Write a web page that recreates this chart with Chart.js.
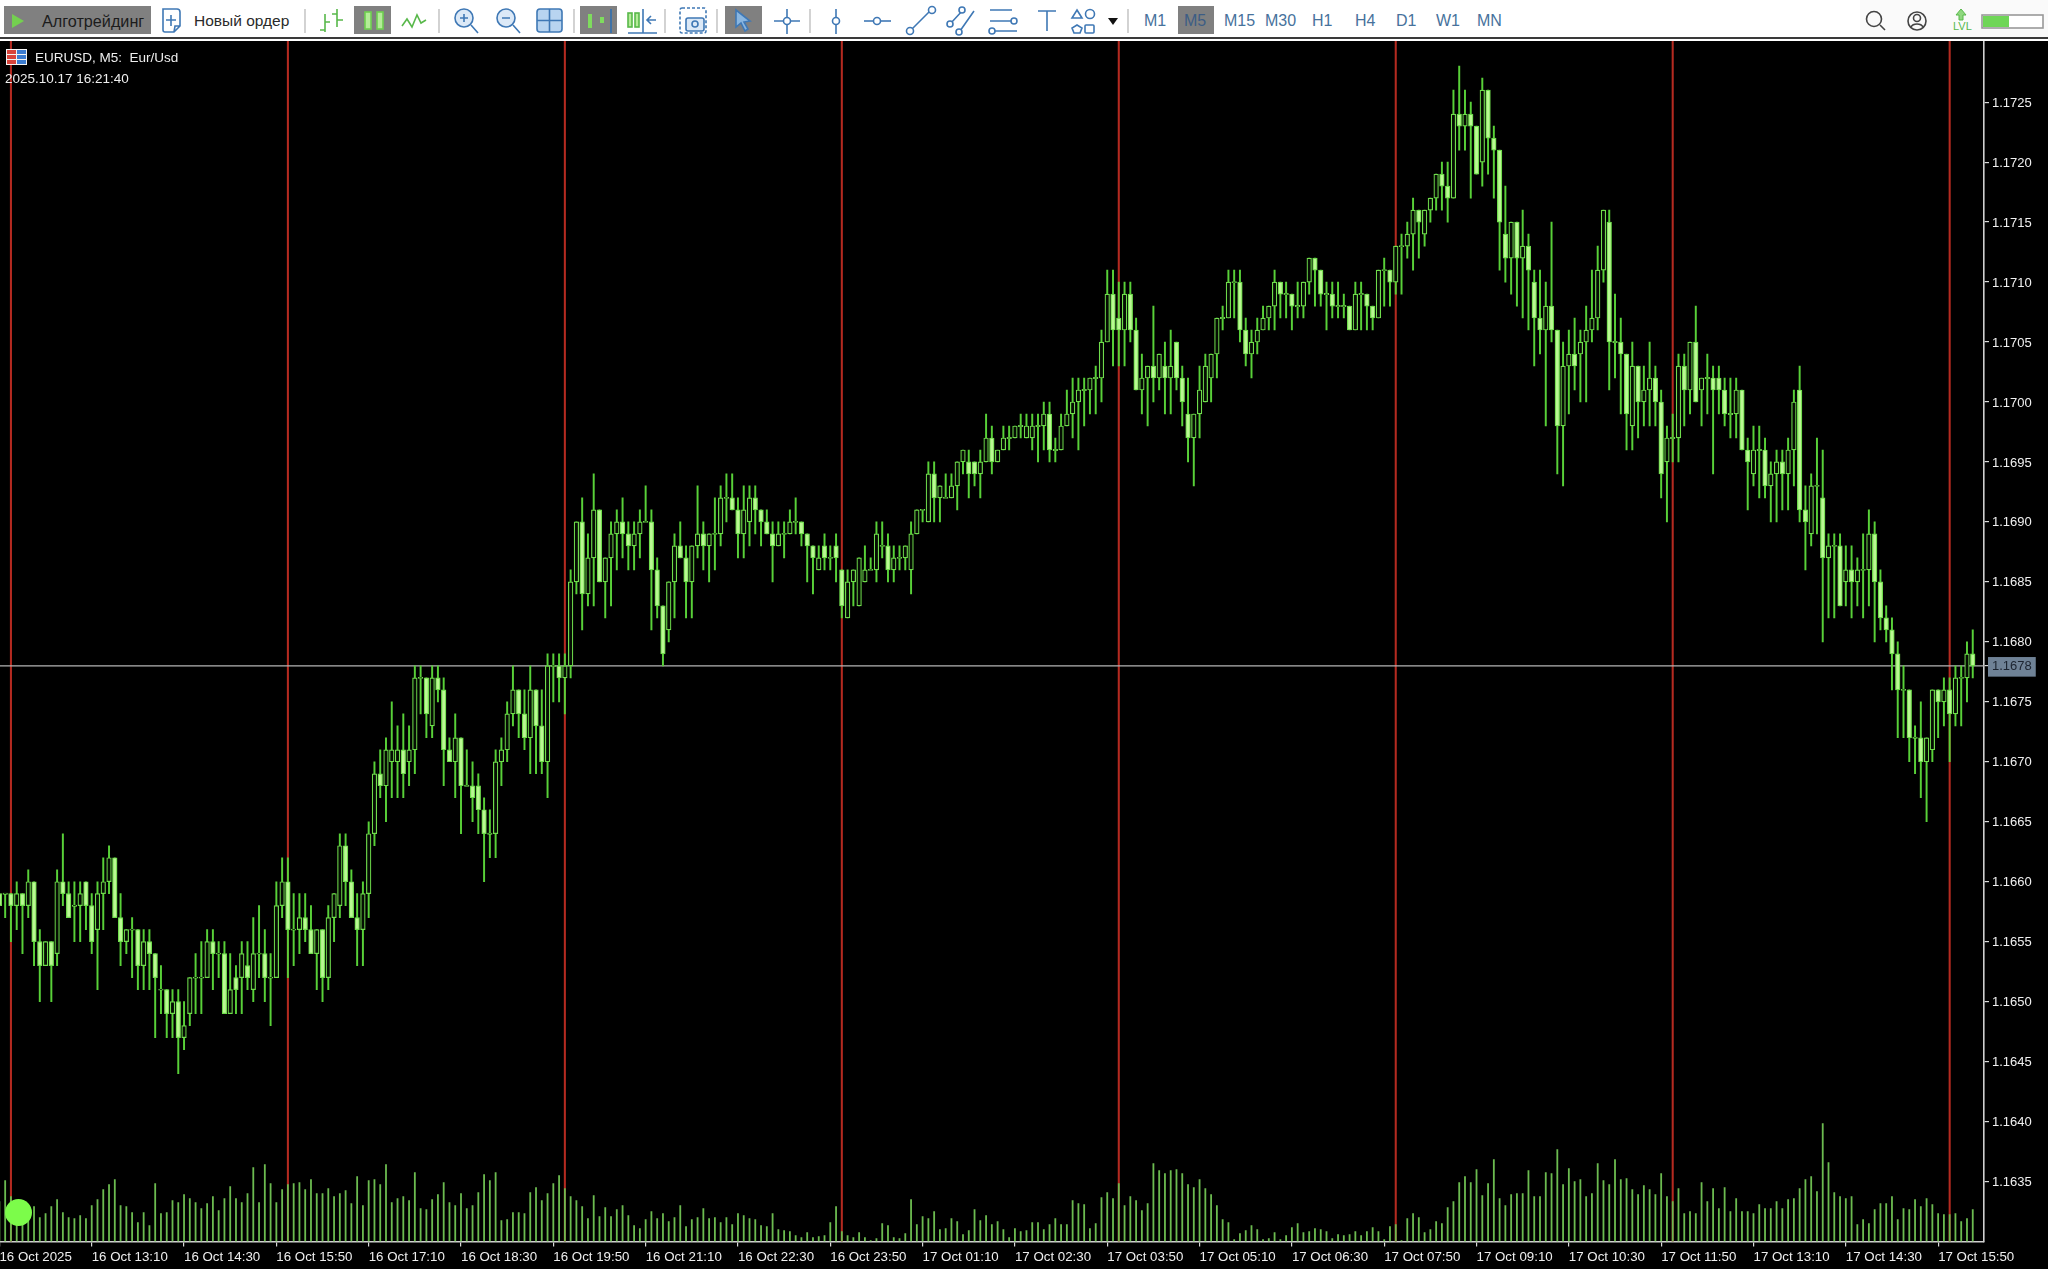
<!DOCTYPE html>
<html><head><meta charset="utf-8"><title>EURUSD M5</title>
<script src="https://cdn.jsdelivr.net/npm/chart.js@4"></script>
<style>
html,body{margin:0;padding:0;background:#fff;width:2048px;height:1269px;overflow:hidden}
#bar{position:absolute;left:0;top:0;width:2048px;height:37px;background:#fff}
#sideBg{position:absolute;left:1860px;top:0;width:188px;height:37px;background:#fafafa}
#rule{position:absolute;left:0;top:37px;width:2048px;height:2px;background:#3a3a3a}
#box{position:absolute;left:0;top:41px;width:2048px;height:1228px;background:#000}
#c{display:block}
.t{position:absolute;font-family:"Liberation Sans",sans-serif;white-space:nowrap;line-height:1}
.tb{top:13px;font-size:15.5px;color:#2a2a2a}
.tf{top:13px;font-size:16px;color:#47729c}
.ov{color:#eee;font-size:13.5px}
#dot{position:absolute;left:5px;top:1199px;width:27px;height:27px;border-radius:50%;background:#7cfc4a}
svg{position:absolute;left:0;top:0}
</style></head><body>
<div id="bar"></div><div id="sideBg"></div><div id="rule"></div>
<svg width="2048" height="37" fill="none" stroke="#3f78b5" stroke-width="1.6">
<g fill="#808080" stroke="none"><rect x="4" y="6" width="147" height="28"/><rect x="354" y="6" width="37" height="28"/><rect x="580" y="6" width="37" height="28"/><rect x="725" y="6" width="37" height="28"/><rect x="1178" y="6" width="36" height="28"/></g>
<polygon points="12,14 24,21 12,28" fill="#74d050" stroke="none"/>
<path d="M163 9h14a3 3 0 0 1 3 3v14l-6 6h-9a2 2 0 0 1-2-2zM174 32l1-6h5M171 15v11M166 20h10"/>
<g stroke="#c8c8c8"><path d="M305 9v24M439 9v24M574 9v24M665 9v24M717 9v24M810 9v24M1128 9v24"/></g>
<g stroke="#58b84a"><path d="M325 14v18M320 30h5M325 22h5M337 9v18M332 14h5M337 20h6"/></g>
<g fill="#b4ec98" stroke="#6fd050"><rect x="365" y="12" width="6" height="17"/><rect x="377" y="12" width="6" height="17"/></g>
<path d="M402 26l5-7 5 8 5-12 4 8 5-3" stroke="#58b84a"/>
<g fill="#dce9f7"><circle cx="464" cy="18" r="9"/><circle cx="506" cy="18" r="9"/></g>
<path d="M471 25l7 8M513 25l7 8M460 18h8M464 14v8M502 18h8"/>
<rect x="537" y="9" width="25" height="23" rx="3" fill="#b8d4f0"/><path d="M549.5 9v23M537 20.500h25"/>
<g fill="#7fdc5e" stroke="none"><rect x="588" y="14" width="4" height="14"/><rect x="600" y="17" width="4" height="6"/></g><path d="M611 9v24" stroke="#2f6fb0"/>
<g stroke="#58b84a" fill="#b4ec98"><rect x="628" y="13" width="4" height="14"/><rect x="635" y="13" width="4" height="14"/></g><path d="M643 9v24M656 20h-8M651 16l-4 4 4 4M628 33h29"/>
<rect x="680" y="8" width="26" height="25" rx="2" stroke-dasharray="3 2"/><rect x="686" y="18" width="18" height="13" rx="2" fill="#dce9f7"/><circle cx="695" cy="24" r="3"/>
<polygon points="736,10 736,27 741,23 745,31 748,29 744,22 750,21" fill="#8ab6e0"/>
<path d="M787 9v25M774 21h26"/><circle cx="787" cy="21" r="3.500" fill="#fff"/>
<path d="M836 9v25"/><circle cx="836" cy="21" r="3.500" fill="#fff"/><path d="M864 21h27"/><circle cx="877" cy="21" r="3.500" fill="#fff"/>
<path d="M911 30l20-20"/><circle cx="910" cy="31" r="3.500" fill="#fff"/><circle cx="932" cy="10" r="3.500" fill="#fff"/>
<path d="M951 23l12-13M960 31l14-20"/><circle cx="950" cy="24" r="3" fill="#fff"/><circle cx="962" cy="10" r="3" fill="#fff"/><circle cx="959" cy="32" r="3" fill="#fff"/>
<path d="M990 10h22M990 21h22M994 31h23"/><circle cx="1014" cy="21" r="3" fill="#fff"/><circle cx="992" cy="31" r="3" fill="#fff"/>
<path d="M1038 11h18M1047 11v20"/>
<path d="M1077 10l5 8h-10z"/><circle cx="1090" cy="14" r="4.500"/><path d="M1077 25l5 3-2 5h-6l-2-5z"/><rect x="1085" y="25" width="9" height="8" rx="1"/>
<polygon points="1108,18 1118,18 1113,25" fill="#111" stroke="none"/>
<g stroke="#444"><circle cx="1874" cy="19" r="7.500"/><path d="M1880 25l5 5"/><circle cx="1917" cy="21" r="9"/><circle cx="1917" cy="18" r="3.500"/><path d="M1911 27c2-4 10-4 12 0"/></g>
<path d="M1961 9l-5 6h3v5h4v-5h3z" fill="#8fd87f" stroke="#58b84a" stroke-width="1"/>
<rect x="1982" y="15" width="61" height="13" fill="#fff" stroke="#999"/><rect x="1983" y="16" width="26" height="11" fill="#6fd657" stroke="none"/>
</svg>
<span class="t tb" style="left:42px;font-size:16.2px;color:#1c1c1c">Алготрейдинг</span>
<span class="t tb" style="left:194px">Новый ордер</span>
<span class="t tf" style="left:1144px">M1</span><span class="t tf" style="left:1184px;color:#3c5d85">M5</span><span class="t tf" style="left:1224px">M15</span><span class="t tf" style="left:1265px">M30</span><span class="t tf" style="left:1312px">H1</span><span class="t tf" style="left:1355px">H4</span><span class="t tf" style="left:1396px">D1</span><span class="t tf" style="left:1436px">W1</span><span class="t tf" style="left:1477px">MN</span>
<span class="t" style="left:1953px;top:21px;font-size:11px;color:#58b84a">LVL</span>
<div id="box"><canvas id="c" width="2048" height="1228"></canvas></div>
<svg width="30" height="20" style="left:5px;top:48px" stroke="#f4f4f4" stroke-width="1"><rect x="1.500" y="1.500" width="10" height="15" fill="#d8443c"/><rect x="11.500" y="1.500" width="10" height="15" fill="#3c7cd0"/><path d="M1.500 6.500h20M1.500 11.500h20M11.500 1.500v15"/></svg>
<span class="t ov" style="left:35px;top:51px">EURUSD, M5:&nbsp; Eur/Usd</span>
<span class="t ov" style="left:5px;top:72px">2025.10.17 16:21:40</span>
<div id="dot"></div>
<script>
const opens=[
1.1659,1.1659,1.1659,1.1658,1.1659,1.1658,1.1660,1.1655,1.1653,1.1655,
1.1654,1.1660,1.1659,1.1658,1.1658,1.1660,1.1658,1.1656,1.1659,1.1660,
1.1662,1.1657,1.1655,1.1656,1.1656,1.1653,1.1655,1.1654,1.1651,1.1651,
1.1649,1.1650,1.1647,1.1649,1.1652,1.1652,1.1652,1.1655,1.1654,1.1654,
1.1649,1.1652,1.1652,1.1653,1.1651,1.1654,1.1654,1.1652,1.1652,1.1658,
1.1660,1.1656,1.1656,1.1657,1.1656,1.1654,1.1656,1.1652,1.1657,1.1658,
1.1663,1.1660,1.1657,1.1656,1.1659,1.1664,1.1669,1.1668,1.1670,1.1670,
1.1671,1.1670,1.1671,1.1677,1.1677,1.1673,1.1677,1.1676,1.1671,1.1670,
1.1672,1.1668,1.1668,1.1668,1.1666,1.1664,1.1664,1.1670,1.1671,1.1674,
1.1676,1.1674,1.1672,1.1676,1.1673,1.1670,1.1678,1.1678,1.1677,1.1678,
1.1685,1.1690,1.1684,1.1687,1.1691,1.1685,1.1687,1.1689,1.1690,1.1689,
1.1688,1.1689,1.1690,1.1690,1.1686,1.1683,1.1681,1.1685,1.1688,1.1687,
1.1685,1.1688,1.1689,1.1688,1.1689,1.1689,1.1692,1.1692,1.1691,1.1689,
1.1690,1.1692,1.1691,1.1690,1.1689,1.1688,1.1689,1.1689,1.1690,1.1690,
1.1689,1.1688,1.1686,1.1688,1.1687,1.1688,1.1686,1.1682,1.1685,1.1683,
1.1685,1.1686,1.1686,1.1688,1.1688,1.1686,1.1687,1.1687,1.1686,1.1689,
1.1691,1.1690,1.1694,1.1692,1.1692,1.1692,1.1693,1.1695,1.1695,1.1695,
1.1694,1.1695,1.1697,1.1695,1.1696,1.1697,1.1697,1.1698,1.1697,1.1697,
1.1698,1.1698,1.1699,1.1696,1.1696,1.1698,1.1699,1.1700,1.1701,1.1701,
1.1702,1.1702,1.1705,1.1709,1.1707,1.1706,1.1709,1.1706,1.1701,1.1702,
1.1703,1.1702,1.1703,1.1702,1.1705,1.1702,1.1699,1.1697,1.1699,1.1700,
1.1702,1.1704,1.1707,1.1707,1.1710,1.1710,1.1706,1.1704,1.1705,1.1706,
1.1707,1.1708,1.1710,1.1709,1.1709,1.1708,1.1708,1.1710,1.1712,1.1711,
1.1709,1.1709,1.1708,1.1708,1.1708,1.1706,1.1709,1.1709,1.1708,1.1707,
1.1711,1.1711,1.1710,1.1713,1.1713,1.1714,1.1716,1.1714,1.1716,1.1717,
1.1719,1.1718,1.1717,1.1724,1.1723,1.1724,1.1723,1.1720,1.1726,1.1722,
1.1721,1.1714,1.1712,1.1715,1.1712,1.1713,1.1710,1.1707,1.1706,1.1708,
1.1706,1.1698,1.1703,1.1704,1.1704,1.1705,1.1706,1.1707,1.1711,1.1715,
1.1705,1.1705,1.1704,1.1698,1.1703,1.1700,1.1701,1.1702,1.1700,1.1695,
1.1697,1.1697,1.1703,1.1701,1.1705,1.1701,1.1702,1.1702,1.1702,1.1701,
1.1699,1.1699,1.1701,1.1696,1.1694,1.1696,1.1696,1.1693,1.1694,1.1695,
1.1694,1.1696,1.1701,1.1691,1.1689,1.1693,1.1692,1.1687,1.1688,1.1688,
1.1685,1.1686,1.1685,1.1686,1.1686,1.1689,1.1685,1.1682,1.1681,1.1679,
1.1676,1.1676,1.1672,1.1672,1.1670,1.1671,1.1676,1.1675,1.1676,1.1674,
1.1677,1.1677,1.1679];
const highs=[
1.1659,1.1659,1.1659,1.1660,1.1659,1.1661,1.1660,1.1656,1.1655,1.1655,
1.1661,1.1664,1.1660,1.1660,1.1660,1.1660,1.1659,1.1660,1.1662,1.1663,
1.1662,1.1659,1.1656,1.1657,1.1656,1.1656,1.1656,1.1654,1.1653,1.1651,
1.1651,1.1651,1.1650,1.1652,1.1654,1.1655,1.1656,1.1656,1.1655,1.1655,
1.1654,1.1653,1.1655,1.1655,1.1657,1.1658,1.1656,1.1654,1.1660,1.1662,
1.1662,1.1659,1.1659,1.1659,1.1658,1.1656,1.1656,1.1658,1.1659,1.1664,
1.1664,1.1661,1.1659,1.1660,1.1665,1.1670,1.1671,1.1672,1.1675,1.1673,
1.1674,1.1673,1.1678,1.1678,1.1677,1.1678,1.1678,1.1677,1.1672,1.1674,
1.1672,1.1671,1.1670,1.1669,1.1667,1.1666,1.1671,1.1672,1.1675,1.1678,
1.1676,1.1676,1.1678,1.1676,1.1676,1.1679,1.1679,1.1679,1.1679,1.1686,
1.1690,1.1692,1.1689,1.1694,1.1691,1.1687,1.1690,1.1691,1.1692,1.1690,
1.1690,1.1691,1.1693,1.1691,1.1687,1.1683,1.1685,1.1689,1.1690,1.1688,
1.1688,1.1693,1.1690,1.1689,1.1692,1.1693,1.1694,1.1694,1.1692,1.1693,
1.1693,1.1693,1.1691,1.1691,1.1690,1.1690,1.1690,1.1691,1.1692,1.1690,
1.1689,1.1688,1.1688,1.1689,1.1688,1.1689,1.1686,1.1686,1.1686,1.1687,
1.1688,1.1687,1.1690,1.1690,1.1689,1.1688,1.1688,1.1688,1.1690,1.1691,
1.1691,1.1695,1.1695,1.1693,1.1694,1.1694,1.1695,1.1696,1.1696,1.1695,
1.1696,1.1699,1.1698,1.1696,1.1698,1.1698,1.1698,1.1699,1.1699,1.1699,
1.1699,1.1700,1.1700,1.1697,1.1699,1.1701,1.1702,1.1702,1.1702,1.1702,
1.1703,1.1706,1.1711,1.1711,1.1710,1.1710,1.1710,1.1707,1.1704,1.1703,
1.1708,1.1704,1.1705,1.1706,1.1705,1.1703,1.1702,1.1699,1.1703,1.1704,
1.1704,1.1707,1.1708,1.1711,1.1711,1.1711,1.1707,1.1706,1.1707,1.1708,
1.1708,1.1711,1.1710,1.1710,1.1709,1.1710,1.1710,1.1712,1.1712,1.1711,
1.1710,1.1710,1.1710,1.1709,1.1708,1.1710,1.1710,1.1709,1.1708,1.1711,
1.1712,1.1711,1.1713,1.1714,1.1715,1.1717,1.1716,1.1716,1.1717,1.1719,
1.1720,1.1720,1.1726,1.1728,1.1726,1.1725,1.1723,1.1727,1.1726,1.1723,
1.1721,1.1718,1.1715,1.1715,1.1716,1.1714,1.1711,1.1711,1.1710,1.1715,
1.1706,1.1705,1.1706,1.1707,1.1706,1.1708,1.1711,1.1713,1.1716,1.1716,
1.1709,1.1707,1.1704,1.1705,1.1703,1.1703,1.1705,1.1703,1.1701,1.1698,
1.1699,1.1704,1.1704,1.1705,1.1708,1.1702,1.1704,1.1703,1.1703,1.1702,
1.1702,1.1702,1.1701,1.1697,1.1698,1.1698,1.1697,1.1695,1.1696,1.1696,
1.1697,1.1701,1.1703,1.1693,1.1694,1.1697,1.1696,1.1689,1.1689,1.1689,
1.1688,1.1688,1.1687,1.1689,1.1691,1.1690,1.1686,1.1683,1.1682,1.1680,
1.1678,1.1676,1.1673,1.1675,1.1672,1.1676,1.1676,1.1677,1.1677,1.1678,
1.1678,1.1680,1.1681];
const lows=[
1.1658,1.1657,1.1655,1.1656,1.1654,1.1657,1.1653,1.1650,1.1653,1.1650,
1.1653,1.1658,1.1657,1.1655,1.1655,1.1656,1.1654,1.1651,1.1656,1.1659,
1.1657,1.1653,1.1654,1.1652,1.1651,1.1651,1.1651,1.1647,1.1649,1.1647,
1.1647,1.1644,1.1646,1.1648,1.1649,1.1649,1.1652,1.1651,1.1652,1.1649,
1.1649,1.1649,1.1649,1.1651,1.1650,1.1652,1.1650,1.1648,1.1652,1.1657,
1.1652,1.1653,1.1654,1.1655,1.1654,1.1651,1.1650,1.1651,1.1655,1.1657,
1.1658,1.1657,1.1653,1.1653,1.1657,1.1663,1.1667,1.1665,1.1667,1.1667,
1.1667,1.1668,1.1669,1.1674,1.1672,1.1672,1.1675,1.1668,1.1670,1.1667,
1.1664,1.1668,1.1665,1.1664,1.1660,1.1662,1.1662,1.1668,1.1670,1.1673,
1.1672,1.1671,1.1669,1.1669,1.1669,1.1667,1.1675,1.1675,1.1674,1.1677,
1.1684,1.1681,1.1683,1.1683,1.1685,1.1682,1.1683,1.1686,1.1687,1.1686,
1.1686,1.1687,1.1690,1.1681,1.1682,1.1678,1.1680,1.1682,1.1687,1.1682,
1.1682,1.1687,1.1686,1.1685,1.1686,1.1688,1.1690,1.1691,1.1687,1.1687,
1.1688,1.1689,1.1688,1.1689,1.1685,1.1688,1.1687,1.1689,1.1689,1.1688,
1.1685,1.1684,1.1686,1.1686,1.1686,1.1685,1.1682,1.1682,1.1683,1.1683,
1.1685,1.1686,1.1685,1.1687,1.1685,1.1685,1.1686,1.1686,1.1684,1.1689,
1.1690,1.1690,1.1690,1.1690,1.1692,1.1692,1.1691,1.1694,1.1692,1.1693,
1.1692,1.1695,1.1694,1.1695,1.1696,1.1696,1.1697,1.1697,1.1697,1.1696,
1.1695,1.1696,1.1695,1.1695,1.1696,1.1698,1.1697,1.1696,1.1698,1.1699,
1.1699,1.1700,1.1705,1.1703,1.1703,1.1703,1.1705,1.1701,1.1699,1.1698,
1.1700,1.1701,1.1699,1.1699,1.1701,1.1698,1.1695,1.1693,1.1697,1.1700,
1.1700,1.1702,1.1706,1.1707,1.1707,1.1705,1.1703,1.1702,1.1704,1.1706,
1.1706,1.1706,1.1707,1.1707,1.1706,1.1707,1.1707,1.1709,1.1708,1.1708,
1.1706,1.1707,1.1707,1.1707,1.1706,1.1706,1.1706,1.1706,1.1706,1.1707,
1.1708,1.1708,1.1709,1.1709,1.1712,1.1711,1.1712,1.1713,1.1715,1.1716,
1.1716,1.1715,1.1717,1.1721,1.1721,1.1717,1.1719,1.1718,1.1719,1.1717,
1.1711,1.1710,1.1709,1.1708,1.1707,1.1706,1.1703,1.1704,1.1698,1.1705,
1.1694,1.1693,1.1699,1.1701,1.1700,1.1700,1.1705,1.1706,1.1710,1.1701,
1.1702,1.1699,1.1696,1.1696,1.1697,1.1698,1.1698,1.1698,1.1692,1.1690,
1.1695,1.1695,1.1698,1.1699,1.1700,1.1698,1.1699,1.1694,1.1699,1.1698,
1.1697,1.1697,1.1696,1.1691,1.1693,1.1692,1.1692,1.1690,1.1690,1.1691,
1.1691,1.1693,1.1690,1.1686,1.1688,1.1689,1.1680,1.1682,1.1682,1.1683,
1.1683,1.1682,1.1683,1.1682,1.1683,1.1680,1.1681,1.1680,1.1676,1.1672,
1.1672,1.1670,1.1669,1.1667,1.1665,1.1670,1.1672,1.1673,1.1670,1.1673,
1.1673,1.1675,1.1677];
const closes=[
1.1658,1.1659,1.1658,1.1659,1.1658,1.1660,1.1655,1.1653,1.1655,1.1653,
1.1660,1.1659,1.1657,1.1658,1.1659,1.1658,1.1655,1.1659,1.1660,1.1662,
1.1657,1.1655,1.1656,1.1656,1.1653,1.1655,1.1654,1.1652,1.1651,1.1649,
1.1650,1.1647,1.1648,1.1652,1.1652,1.1652,1.1655,1.1654,1.1654,1.1649,
1.1651,1.1651,1.1654,1.1652,1.1654,1.1654,1.1652,1.1652,1.1658,1.1660,
1.1656,1.1656,1.1657,1.1656,1.1654,1.1656,1.1652,1.1657,1.1659,1.1663,
1.1660,1.1657,1.1656,1.1659,1.1664,1.1669,1.1668,1.1671,1.1671,1.1671,
1.1669,1.1671,1.1677,1.1677,1.1674,1.1677,1.1676,1.1671,1.1670,1.1672,
1.1668,1.1668,1.1667,1.1666,1.1664,1.1664,1.1670,1.1671,1.1674,1.1676,
1.1674,1.1672,1.1676,1.1673,1.1670,1.1678,1.1678,1.1677,1.1678,1.1685,
1.1690,1.1684,1.1687,1.1691,1.1685,1.1687,1.1689,1.1690,1.1689,1.1688,
1.1689,1.1690,1.1690,1.1686,1.1683,1.1679,1.1685,1.1688,1.1687,1.1685,
1.1688,1.1689,1.1688,1.1689,1.1689,1.1692,1.1692,1.1691,1.1689,1.1691,
1.1692,1.1691,1.1690,1.1689,1.1688,1.1689,1.1689,1.1690,1.1690,1.1689,
1.1688,1.1687,1.1687,1.1687,1.1687,1.1687,1.1683,1.1685,1.1686,1.1687,
1.1686,1.1686,1.1689,1.1688,1.1686,1.1687,1.1687,1.1688,1.1689,1.1691,
1.1691,1.1694,1.1692,1.1693,1.1692,1.1693,1.1695,1.1696,1.1694,1.1694,
1.1695,1.1697,1.1695,1.1696,1.1697,1.1697,1.1698,1.1698,1.1698,1.1698,
1.1698,1.1699,1.1696,1.1696,1.1698,1.1699,1.1700,1.1701,1.1701,1.1702,
1.1702,1.1705,1.1709,1.1706,1.1706,1.1709,1.1706,1.1701,1.1702,1.1703,
1.1702,1.1704,1.1702,1.1703,1.1702,1.1700,1.1697,1.1699,1.1701,1.1703,
1.1704,1.1707,1.1707,1.1710,1.1710,1.1706,1.1704,1.1705,1.1706,1.1707,
1.1708,1.1710,1.1709,1.1709,1.1708,1.1708,1.1710,1.1712,1.1711,1.1709,
1.1709,1.1708,1.1708,1.1708,1.1706,1.1709,1.1709,1.1708,1.1707,1.1711,
1.1711,1.1710,1.1713,1.1713,1.1714,1.1716,1.1715,1.1716,1.1717,1.1719,
1.1718,1.1717,1.1724,1.1723,1.1724,1.1723,1.1719,1.1726,1.1722,1.1721,
1.1715,1.1712,1.1715,1.1712,1.1713,1.1711,1.1707,1.1706,1.1708,1.1706,
1.1698,1.1703,1.1704,1.1703,1.1705,1.1706,1.1707,1.1711,1.1716,1.1705,
1.1705,1.1704,1.1699,1.1703,1.1700,1.1701,1.1702,1.1700,1.1694,1.1697,
1.1697,1.1703,1.1701,1.1705,1.1700,1.1702,1.1702,1.1701,1.1701,1.1699,
1.1699,1.1701,1.1696,1.1695,1.1696,1.1696,1.1693,1.1694,1.1695,1.1694,
1.1696,1.1700,1.1691,1.1690,1.1693,1.1693,1.1687,1.1688,1.1688,1.1683,
1.1686,1.1685,1.1686,1.1686,1.1689,1.1685,1.1682,1.1681,1.1679,1.1676,
1.1676,1.1672,1.1672,1.1670,1.1672,1.1676,1.1675,1.1676,1.1674,1.1677,
1.1677,1.1679,1.1678];
const volumes=[
40,61,45,35,35,35,35,24,28,35,
42,29,24,23,26,23,36,42,52,57,
62,36,35,29,19,29,16,58,28,29,
41,39,47,43,39,33,38,45,31,43,
55,43,39,48,74,39,77,58,39,52,
57,58,59,52,62,48,48,53,45,48,
51,38,65,36,61,62,57,77,39,43,
45,41,69,33,32,42,47,59,39,36,
48,33,36,49,67,61,69,21,22,29,
29,28,49,54,41,48,58,66,53,45,
41,35,23,46,25,34,25,32,36,26,
16,13,22,30,23,28,20,24,36,15,
22,24,33,23,24,19,24,17,28,26,
23,22,16,15,28,12,11,10,6,4,
9,4,5,6,19,35,10,6,4,9,
4,1,3,18,16,4,3,8,42,17,
25,23,30,12,13,23,20,7,11,32,
21,26,17,20,12,4,13,10,11,19,
19,12,17,23,17,17,41,38,37,13,
18,44,49,43,58,36,45,41,31,38,
78,71,68,71,72,68,57,54,62,53,
47,36,22,19,2,8,11,16,12,2,
3,9,2,6,14,18,9,10,13,12,
10,3,7,6,7,10,6,10,14,10,
2,15,17,1,23,28,24,9,12,20,
18,34,40,59,65,59,72,46,58,82,
43,36,47,48,48,71,45,45,69,68,
92,57,73,60,62,45,48,78,61,57,
82,62,63,52,47,56,52,47,68,45,
40,53,28,30,28,59,40,53,33,54,
30,43,30,30,28,37,33,33,40,33,
42,43,53,62,65,50,118,79,49,45,
43,45,17,22,18,32,38,38,45,22,
33,32,42,35,43,37,28,27,27,28,
20,23,32];
const separatorBars=[2,50,98,146,194,242,290,338];
const xTickBars=[0,16,32,48,64,80,96,112,128,144,160,176,192,208,224,240,256,272,288,304,320,336];
const xTickLabels=["16 Oct 2025","16 Oct 13:10","16 Oct 14:30","16 Oct 15:50","16 Oct 17:10","16 Oct 18:30","16 Oct 19:50","16 Oct 21:10","16 Oct 22:30","16 Oct 23:50","17 Oct 01:10","17 Oct 02:30","17 Oct 03:50","17 Oct 05:10","17 Oct 06:30","17 Oct 07:50","17 Oct 09:10","17 Oct 10:30","17 Oct 11:50","17 Oct 13:10","17 Oct 14:30","17 Oct 15:50"];
const yTicks=[1.1725,1.1720,1.1715,1.1710,1.1705,1.1700,1.1695,1.1690,1.1685,1.1680,1.1675,1.1670,1.1665,1.1660,1.1655,1.1650,1.1645,1.1640,1.1635];
const bidPrice=1.1678;
const priceMin=1.16300, priceMax=1.17301, barMin=0.104, barMax=343.95, volumeMax=1200.5;

const GREEN='#58d038', BODY='#6fdc4c', DOWN='#baf893', UP='#050d03';
const dojiPad=0.00001;
const idx=opens.map((_,i)=>i);
const wickData=idx.map(i=>({x:i,y:[lows[i],highs[i]]}));
const bodyData=idx.map(i=>{
  const a=Math.min(opens[i],closes[i]),b=Math.max(opens[i],closes[i]);
  return {x:i,y:a===b?[a-dojiPad/2,b+dojiPad/2]:[a,b]};
});
const volumeData=idx.map(i=>({x:i,y:volumes[i]}));
const sepData=separatorBars.map(b=>({x:b,y:[priceMin,priceMax]}));

new Chart(document.getElementById('c').getContext('2d'),{
  type:'bar',
  data:{datasets:[
    {label:'Separators',data:sepData,backgroundColor:'#b42a20',barThickness:1.4,grouped:false,order:6},
    {type:'line',label:'Bid',data:[{x:barMin,y:bidPrice},{x:barMax,y:bidPrice}],borderColor:'#b4b4b4',borderWidth:1.3,pointRadius:0,order:5},
    {label:'Volume',data:volumeData,yAxisID:'yv',backgroundColor:'#6cbb50',barThickness:1.15,grouped:false,order:4},
    {label:'Wicks',data:wickData,backgroundColor:GREEN,barThickness:1.3,grouped:false,order:3},
    {label:'Bodies',data:bodyData,barThickness:4.6,grouped:false,order:2,borderWidth:1.2,borderSkipped:false,borderColor:BODY,
     backgroundColor:c=>closes[c.dataIndex]<opens[c.dataIndex]?DOWN:UP}
  ]},
  options:{
    responsive:false,animation:false,events:[],devicePixelRatio:1,
    layout:{padding:0},
    plugins:{legend:{display:false},tooltip:{enabled:false}},
    scales:{
      x:{type:'linear',offset:false,min:barMin,max:barMax,
        border:{color:'#d0d0d0',width:1.4},
        grid:{offset:false,drawOnChartArea:false,color:'#d8d8d8',lineWidth:1.2,tickLength:5},
        afterBuildTicks:s=>{s.ticks=xTickBars.map(v=>({value:v}));},
        afterFit:s=>{s.height=27.5;s.paddingLeft=0;s.paddingRight=0;},
        ticks:{autoSkip:false,maxRotation:0,minRotation:0,align:'start',padding:3,color:'#eeeeee',
          font:{family:'"Liberation Sans",sans-serif',size:13.3},
          callback:v=>xTickLabels[xTickBars.indexOf(v)]}},
      y:{type:'linear',position:'right',min:priceMin,max:priceMax,
        border:{color:'#d0d0d0',width:1.6},
        grid:{drawOnChartArea:false,color:'#d8d8d8',lineWidth:1.2,tickLength:5},
        afterBuildTicks:s=>{s.ticks=yTicks.concat([bidPrice]).map(v=>({value:v}));},
        afterFit:s=>{s.width=64;s.paddingTop=0;s.paddingBottom=0;},
        ticks:{autoSkip:false,padding:3,labelOffset:1,
          color:c=>c.tick.value===bidPrice?'#1c2430':'#f0f0f0',
          font:{family:'"Liberation Sans",sans-serif',size:13},
          showLabelBackdrop:c=>c.tick.value===bidPrice,
          backdropColor:'#6f8296',backdropPadding:{x:4,y:2},
          callback:v=>v.toFixed(4)}},
      yv:{type:'linear',display:false,min:0,max:volumeMax}
    }
  }
});
</script>
</body></html>
